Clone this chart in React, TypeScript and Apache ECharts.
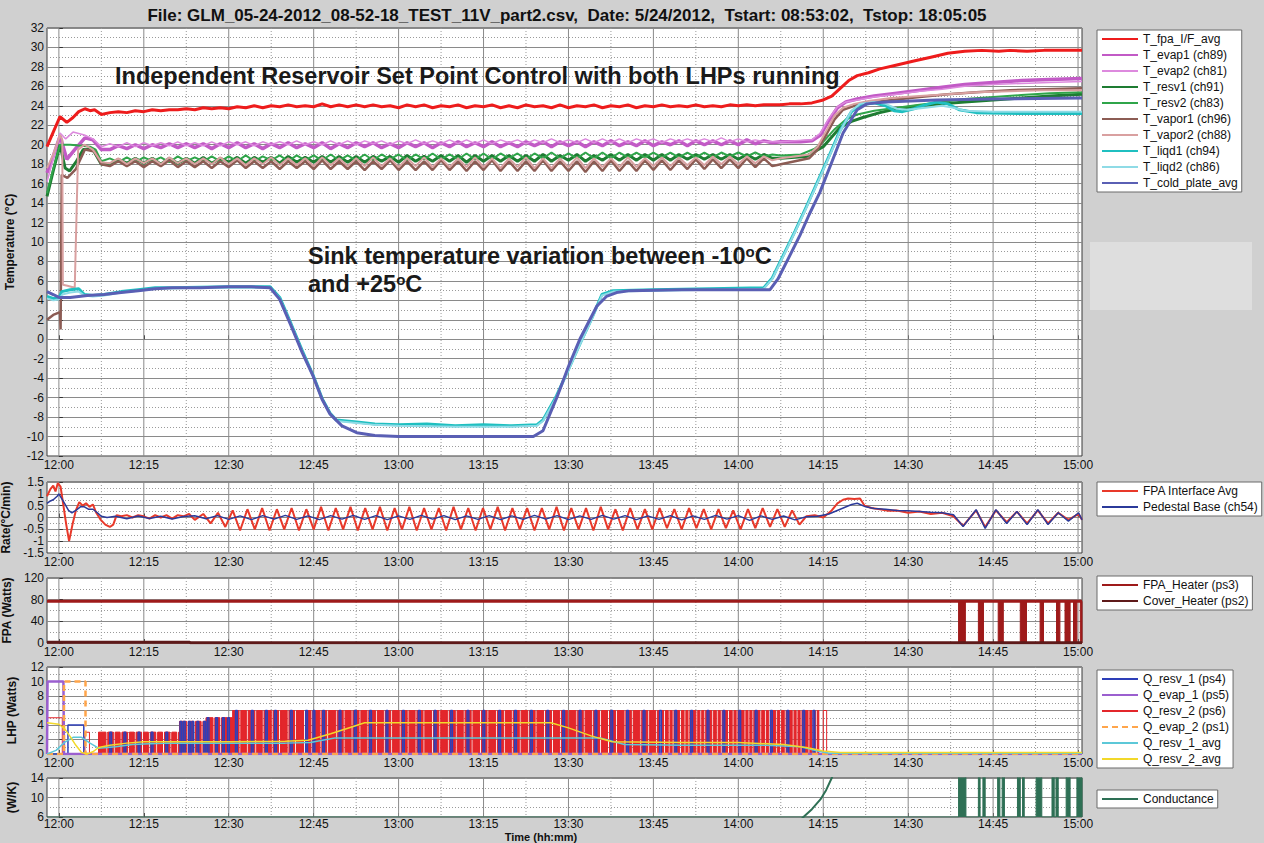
import React, { useEffect, useRef } from "react";
import * as echarts from "echarts";

const FONT = "'Liberation Sans', Arial, Helvetica, sans-serif";
const X_MIN = -2.1;
const X_MAX = 180.7;

// ---- time axis (minutes after 12:00) ----
const timeTicks = [0, 15, 30, 45, 60, 75, 90, 105, 120, 135, 150, 165, 180];
const timeTickLabels = ["12:00", "12:15", "12:30", "12:45", "13:00", "13:15", "13:30", "13:45", "14:00", "14:15", "14:30", "14:45", "15:00"];
const timeMinorTicks = [7.5, 22.5, 37.5, 52.5, 67.5, 82.5, 97.5, 112.5, 127.5, 142.5, 157.5, 172.5];

// ---- main temperature panel ----
const tOsc = [9, 10.5, 12, 13.5, 15, 16.5, 18, 19.5, 21, 22.5,
  24, 25.5, 27, 28.5, 30, 31.5, 33, 34.5, 36, 37.5,
  39, 40.5, 42, 43.5, 45, 46.5, 48, 49.5, 51, 52.5,
  54, 55.5, 57, 58.5, 60, 61.5, 63, 64.5, 66, 67.5,
  69, 70.5, 72, 73.5, 75, 76.5, 78, 79.5, 81, 82.5,
  84, 85.5, 87, 88.5, 90, 91.5, 93, 94.5, 96, 97.5,
  99, 100.5, 102, 103.5, 105, 106.5, 108, 109.5, 111, 112.5,
  114, 115.5, 117, 118.5, 120, 121.5, 123, 124.5, 126];

const fpaEarly = [[-2.1, 19.8], [-1, 21.3], [0.2, 22.9], [1.4, 22.3], [2.5, 22.8], [3.5, 23.4], [4.6, 23.7], [5.5, 23.5], [6.3, 23.6], [7.5, 23.1]];
const fpaOsc = [23.3, 23.4, 23.3, 23.5, 23.4, 23.6, 23.5, 23.6, 23.6, 23.7,
  23.6, 23.8, 23.7, 23.8, 23.7, 23.9, 23.8, 24.0, 23.8, 24.0,
  23.9, 24.1, 23.9, 24.0, 23.9, 24.2, 23.9, 24.1, 23.9, 24.1,
  23.9, 24.1, 23.9, 24.0, 23.8, 24.1, 23.9, 24.1, 23.8, 24.0,
  23.9, 24.1, 23.8, 24.0, 23.9, 24.1, 23.8, 24.0, 23.8, 24.1,
  23.9, 24.0, 23.8, 24.1, 23.8, 24.0, 23.9, 24.1, 23.8, 24.0,
  23.9, 24.1, 23.8, 24.0, 23.9, 24.1, 23.9, 24.0, 23.9, 24.1,
  23.9, 24.0, 23.9, 24.1, 24.0, 24.1, 24.0, 24.1, 24.1];
const fpaLate = [[127.5, 24.1], [129, 24.2], [131, 24.2], [133, 24.3], [135, 24.6], [136.5, 25.0], [138, 25.8], [139.5, 26.6], [141, 27.1], [143, 27.4], [145, 27.8], [148, 28.2], [151, 28.6], [154, 29.0], [157, 29.4], [160, 29.6], [163, 29.7], [166, 29.6], [168, 29.7], [171, 29.6], [174, 29.7], [177, 29.7], [180.7, 29.7]];

const evap1Early = [[-2.1, 17.1], [-1, 18.8], [0.2, 20.9], [1.4, 18.5], [2.8, 19.5], [4.6, 20.7], [6, 20.5], [7.5, 19.5]];
const evap1Osc = [19.5, 19.9, 19.6, 20.0, 19.6, 20.0, 19.7, 20.1, 19.7, 20.1,
  19.7, 20.1, 19.6, 20.1, 19.7, 20.2, 19.7, 20.1, 19.6, 20.1,
  19.7, 20.2, 19.7, 20.1, 19.7, 20.2, 19.6, 20.1, 19.7, 20.2,
  19.8, 20.2, 19.7, 20.1, 19.7, 20.2, 19.8, 20.2, 19.7, 20.2,
  19.8, 20.3, 19.8, 20.2, 19.8, 20.3, 19.8, 20.2, 19.8, 20.3,
  19.9, 20.3, 19.8, 20.3, 19.9, 20.3, 19.8, 20.3, 19.9, 20.4,
  19.9, 20.3, 19.9, 20.4, 19.9, 20.3, 20.0, 20.4, 19.9, 20.4,
  20.0, 20.4, 20.0, 20.4, 20.0, 20.5, 20.1, 20.4, 20.2];
const evap1Late = [[127.5, 20.3], [129, 20.3], [131, 20.3], [133, 20.4], [134.5, 21.0], [136, 22.5], [137.5, 23.8], [139, 24.4], [141, 24.7], [144, 25.0], [148, 25.3], [152, 25.6], [156, 25.9], [160, 26.2], [165, 26.4], [170, 26.6], [175, 26.7], [180.7, 26.8]];

const evap2Early = [[-2.1, 16.2], [-1, 18.5], [0.2, 21.2], [1.2, 20.6], [2.5, 21.3], [4.5, 21.0], [6, 20.6], [7.5, 19.8]];
const evap2Osc = [20.1, 19.8, 20.2, 19.8, 20.2, 19.9, 20.2, 19.9, 20.3, 19.9,
  20.2, 19.9, 20.3, 19.9, 20.3, 20.0, 20.3, 19.9, 20.3, 20.0,
  20.3, 20.0, 20.4, 20.0, 20.3, 20.0, 20.4, 20.0, 20.4, 20.0,
  20.4, 20.1, 20.4, 20.0, 20.4, 20.1, 20.5, 20.1, 20.4, 20.1,
  20.5, 20.1, 20.5, 20.1, 20.5, 20.1, 20.5, 20.2, 20.5, 20.1,
  20.5, 20.2, 20.6, 20.2, 20.5, 20.2, 20.6, 20.2, 20.6, 20.2,
  20.6, 20.2, 20.6, 20.3, 20.6, 20.2, 20.6, 20.3, 20.6, 20.3,
  20.6, 20.3, 20.7, 20.3, 20.6, 20.3, 20.5, 20.3, 20.3];
const evap2Late = [[127.5, 20.3], [130, 20.4], [133, 20.5], [134.5, 21.2], [136, 22.7], [137.5, 23.9], [139, 24.4], [141, 24.6], [144, 24.9], [148, 25.2], [152, 25.5], [156, 25.7], [160, 26.0], [165, 26.2], [170, 26.3], [175, 26.4], [180.7, 26.5]];

const resv1Early = [[-2.1, 14.7], [-1, 17.3], [0.2, 20], [1.1, 17.6], [1.9, 17.3], [3, 18.2], [4.3, 19.5], [6, 19.5], [7.5, 18.0]];
const resv1Osc = [18.0, 18.5, 18.1, 18.6, 18.1, 18.6, 18.0, 18.6, 18.1, 18.6,
  18.1, 18.7, 18.1, 18.6, 18.2, 18.7, 18.1, 18.7, 18.2, 18.7,
  18.1, 18.8, 18.2, 18.7, 18.2, 18.8, 18.2, 18.8, 18.2, 18.8,
  18.2, 18.8, 18.3, 18.8, 18.2, 18.9, 18.3, 18.8, 18.3, 18.9,
  18.3, 18.9, 18.2, 18.9, 18.3, 18.9, 18.3, 18.9, 18.3, 18.9,
  18.3, 19.0, 18.3, 18.9, 18.4, 19.0, 18.3, 18.9, 18.4, 19.0,
  18.4, 19.0, 18.4, 19.0, 18.4, 19.0, 18.4, 19.0, 18.5, 19.0,
  18.5, 19.0, 18.5, 19.0, 18.5, 19.0, 18.5, 19.0, 18.6];
const resv1Late = [[127.5, 18.6], [130, 18.7], [132, 18.8], [133.5, 19.3], [135, 19.8], [136.5, 20.8], [138, 21.8], [140, 22.4], [142, 22.8], [145, 23.3], [148, 23.7], [152, 24.0], [156, 24.2], [160, 24.4], [165, 24.6], [170, 24.8], [175, 25.0], [180.7, 25.2]];

const resv2Early = [[-2.1, 15], [-1, 17.5], [0.2, 20], [2, 20], [4, 19.9], [5.5, 19.8], [6.5, 19.5], [7.5, 18.3]];
const resv2Osc = [18.6, 18.2, 18.7, 18.2, 18.7, 18.3, 18.7, 18.2, 18.8, 18.3,
  18.7, 18.3, 18.8, 18.3, 18.8, 18.3, 18.9, 18.3, 18.8, 18.4,
  18.9, 18.3, 18.9, 18.4, 18.9, 18.4, 19.0, 18.4, 18.9, 18.4,
  19.0, 18.4, 19.0, 18.5, 19.0, 18.4, 19.0, 18.5, 19.1, 18.5,
  19.0, 18.5, 19.1, 18.5, 19.1, 18.5, 19.1, 18.6, 19.1, 18.5,
  19.1, 18.6, 19.2, 18.6, 19.1, 18.6, 19.2, 18.6, 19.2, 18.6,
  19.2, 18.7, 19.2, 18.7, 19.2, 18.7, 19.2, 18.7, 19.2, 18.7,
  19.2, 18.7, 19.2, 18.8, 19.2, 18.8, 19.2, 18.8, 19.0];
const resv2Late = [[127.5, 18.9], [131, 19.0], [133.5, 19.6], [135, 20.3], [137, 21.6], [139, 22.6], [141, 23.1], [144, 23.5], [148, 23.8], [152, 24.1], [156, 24.4], [160, 24.7], [165, 24.9], [170, 25.1], [175, 25.3], [180.7, 25.4]];

const vapor1Early = [[-2.1, 2.0], [-1, 2.5], [0.2, 2.8], [0.3, 1.0], [0.5, 16.9], [1.5, 16.6], [3, 17.5], [4.6, 19.5], [6.3, 19.3], [7.5, 18.0]];
const vapor1Osc = [17.8, 18.3, 17.8, 18.3, 17.7, 18.3, 17.8, 18.4, 17.7, 18.3,
  17.7, 18.3, 17.6, 18.3, 17.7, 18.4, 17.6, 18.3, 17.6, 18.3,
  17.5, 18.3, 17.6, 18.3, 17.5, 18.4, 17.5, 18.3, 17.5, 18.3,
  17.4, 18.3, 17.5, 18.4, 17.4, 18.3, 17.4, 18.3, 17.4, 18.4,
  17.4, 18.3, 17.3, 18.3, 17.4, 18.4, 17.3, 18.3, 17.3, 18.3,
  17.3, 18.4, 17.3, 18.3, 17.3, 18.3, 17.2, 18.3, 17.3, 18.4,
  17.3, 18.3, 17.3, 18.4, 17.4, 18.4, 17.4, 18.4, 17.5, 18.5,
  17.5, 18.5, 17.6, 18.5, 17.6, 18.6, 17.7, 18.6, 17.8];
const vapor1Late = [[127.5, 18.0], [130, 18.3], [132.5, 18.6], [134, 19.5], [135.5, 21.0], [137, 22.6], [138.5, 23.6], [140.5, 24.0], [143, 24.3], [147, 24.6], [152, 24.9], [157, 25.2], [162, 25.4], [168, 25.6], [174, 25.7], [180.7, 25.8]];

const vapor2Early = [[-2.1, 17.6], [-1, 19.0], [0.2, 21.0], [0.6, 20.5], [0.7, 5.6], [1.5, 5.5], [2.8, 5.3], [3.4, 19.5], [4.5, 20.0], [6, 19.5], [7.5, 18.2]];
const vapor2Osc = [18.1, 18.6, 18.0, 18.6, 18.1, 18.6, 18.0, 18.7, 18.1, 18.6,
  18.0, 18.6, 18.0, 18.7, 18.0, 18.6, 17.9, 18.6, 18.0, 18.7,
  17.9, 18.6, 17.9, 18.6, 17.8, 18.7, 17.9, 18.6, 17.8, 18.6,
  17.8, 18.7, 17.8, 18.6, 17.7, 18.6, 17.8, 18.7, 17.7, 18.6,
  17.7, 18.6, 17.7, 18.7, 17.7, 18.6, 17.6, 18.6, 17.7, 18.7,
  17.6, 18.6, 17.6, 18.6, 17.7, 18.7, 17.6, 18.6, 17.7, 18.6,
  17.7, 18.7, 17.7, 18.6, 17.8, 18.7, 17.8, 18.7, 17.9, 18.7,
  17.9, 18.8, 18.0, 18.8, 18.0, 18.8, 18.1, 18.8, 18.4];
const vapor2Late = [[127.5, 18.6], [130, 18.8], [132.5, 19.0], [134, 19.8], [135.5, 21.4], [137, 23.0], [138.5, 23.8], [140.5, 24.2], [143, 24.5], [147, 24.8], [152, 25.0], [157, 25.2], [162, 25.4], [168, 25.5], [174, 25.6], [180.7, 25.6]];

const liqd1Data = [[-2.1, 4.4], [-1, 4.2], [0, 4.2], [0.5, 4.9], [2, 5.1], [3.5, 5.2], [4.5, 4.6], [6, 4.5], [8, 4.6], [11, 4.9], [14, 5.1], [17, 5.3], [20, 5.3], [30, 5.4], [37.3, 5.4], [39, 4.3], [41, 1.6], [43, -1.2], [44.9, -3.7], [46.5, -6.1], [47.9, -7.6], [49, -8.3], [52.6, -8.5], [55.8, -8.7], [60, -8.8], [65, -8.7], [70, -8.9], [75, -8.8], [80, -8.9], [84.4, -8.8], [85.5, -8.3], [87.9, -5.8], [90, -3.1], [92, -0.5], [94, 2.0], [95.9, 4.6], [97.9, 5.0], [105, 5.1], [115, 5.2], [124.5, 5.3], [126, 6.3], [128, 8.7], [130, 11.1], [132, 13.6], [134, 16.2], [136, 18.8], [138, 21.5], [140, 23.4], [141.5, 24.1], [144, 24.3], [146, 24.0], [147.5, 23.5], [149, 23.4], [151, 23.7], [153, 24.1], [155, 24.4], [157, 24.2], [159, 23.6], [162, 23.3], [170, 23.2], [180.7, 23.2]];
const liqd2Data = [[-2.1, 4.2], [-1, 4.0], [0, 4.1], [0.6, 4.6], [2, 4.8], [3.5, 4.9], [4.5, 4.5], [6, 4.4], [8, 4.5], [11, 4.8], [14, 5.0], [17, 5.2], [20, 5.3], [30, 5.3], [37.3, 5.3], [39, 4.2], [41, 1.5], [43, -1.3], [44.9, -3.8], [46.5, -6.2], [47.9, -7.7], [49, -8.4], [52.6, -8.6], [55.8, -8.8], [60, -8.9], [70, -9.0], [80, -9.0], [84.4, -8.9], [85.5, -8.4], [87.9, -5.9], [90, -3.2], [92, -0.6], [94, 1.9], [95.9, 4.5], [97.9, 4.9], [105, 5.0], [115, 5.1], [124.5, 5.2], [126, 6.2], [128, 8.6], [130, 11.0], [132, 13.5], [134, 16.1], [136, 18.7], [138, 21.4], [140, 23.5], [141.5, 24.2], [144, 24.4], [146, 24.2], [148, 23.7], [150, 23.6], [153, 23.8], [156, 24.0], [158, 23.8], [160, 23.5], [165, 23.4], [172, 23.4], [180.7, 23.4]];
const coldPlateData = [[-2.1, 4.9], [-1, 4.6], [0, 4.3], [2, 4.3], [5, 4.5], [8, 4.6], [11, 4.8], [14, 5.0], [17, 5.2], [20, 5.3], [25, 5.3], [30, 5.4], [34, 5.4], [37.3, 5.3], [39, 4.1], [41, 1.4], [43, -1.4], [44.9, -3.8], [46.5, -6.2], [47.9, -7.7], [50, -8.9], [52.6, -9.6], [55.8, -9.9], [60, -10], [70, -10], [80, -10], [83.8, -10], [85.5, -9.4], [88, -5.9], [90, -2.8], [92, 0], [95, 3.4], [96.7, 4.4], [98.5, 4.8], [100.9, 5.0], [110, 5.1], [120, 5.1], [125.6, 5.1], [127, 6.2], [129, 8.5], [130.9, 10.7], [132.5, 12.8], [134.4, 15.1], [136.5, 18.2], [138.5, 21.2], [141, 23.6], [142.7, 24.2], [146, 24.4], [155, 24.6], [165, 24.7], [180.7, 24.8]];

// ---- rate panel ----
const fpaRateData = [[-2.1, 0.9], [-1.5, 1.2], [-1, 1.35], [-0.6, 1.1], [-0.2, 1.45], [0.3, 1.3], [0.8, 0.5], [1.3, -0.3], [1.8, -1.0], [2.4, -0.3], [3, 0.3], [3.6, 0.65], [4.2, 0.5], [4.8, 0.6], [5.4, 0.45], [6, 0.55], [6.6, 0.2], [7.4, -0.1], [8.2, -0.3], [9, -0.4], [9.6, -0.3], [10.2, 0.1], [11, 0.05], [12, 0.1], [13, 0.0], [14, 0.1], [15, 0.05], [16, -0.05], [17, 0.1], [18, 0.0], [19, 0.1], [20, -0.05], [21, 0.1], [22, 0.05], [23, 0.15], [24, -0.1],
  [25.5, 0.15], [26.8, -0.25], [28.1, 0.2], [29.4, -0.4], [30.7, 0.3], [32, -0.55], [33.3, 0.35], [34.6, -0.5], [35.9, 0.4], [37.2, -0.55], [38.5, 0.35], [39.8, -0.5], [41.1, 0.4], [42.4, -0.55], [43.7, 0.35], [45, -0.5], [46.3, 0.45], [47.6, -0.55], [48.9, 0.4], [50.2, -0.5], [51.5, 0.45], [52.8, -0.55], [54.1, 0.4], [55.4, -0.5], [56.7, 0.45], [58, -0.55], [59.3, 0.4], [60.6, -0.5], [61.9, 0.45], [63.2, -0.55], [64.5, 0.4], [65.8, -0.5], [67.1, 0.4], [68.4, -0.55], [69.7, 0.45], [71, -0.5], [72.3, 0.4], [73.6, -0.55], [74.9, 0.4], [76.2, -0.5], [77.5, 0.45], [78.8, -0.55], [80.1, 0.4], [81.4, -0.5], [82.7, 0.4], [84, -0.55], [85.3, 0.4], [86.6, -0.5], [87.9, 0.45], [89.2, -0.55], [90.5, 0.4], [91.8, -0.5], [93.1, 0.4], [94.4, -0.55], [95.7, 0.45], [97, -0.5], [98.3, 0.35], [99.6, -0.55], [100.9, 0.4], [102.2, -0.5], [103.5, 0.35], [104.8, -0.5], [106.1, 0.4], [107.4, -0.45], [108.7, 0.35], [110, -0.5], [111.3, 0.4], [112.6, -0.45], [113.9, 0.35], [115.2, -0.5], [116.5, 0.35], [117.8, -0.45], [119.1, 0.3], [120.4, -0.5], [121.7, 0.35], [123, -0.45], [124.3, 0.4], [125.6, -0.4], [126.9, 0.35], [128.2, -0.4], [129.5, 0.3], [130.8, -0.3],
  [132, 0.05], [133.5, 0.1], [135, 0.0], [136.5, 0.3], [137.5, 0.6], [138.5, 0.75], [139.4, 0.8], [140.5, 0.78], [141.5, 0.8], [142.3, 0.5], [143.5, 0.4], [145, 0.35], [146.5, 0.28], [148, 0.3], [150, 0.2], [152, 0.25], [154, 0.15], [156, 0.2], [158, 0.05], [159.7, -0.35], [162, 0.3], [163.6, -0.4], [165.5, 0.3], [167.4, -0.2], [169.2, 0.25], [171, -0.25], [172.9, 0.3], [174.7, -0.25], [176.5, 0.2], [178.3, -0.1], [180.1, 0.15], [180.7, -0.1]];
const pedestalRateData = [[-2.1, 0.6], [-1.5, 0.7], [-1, 0.75], [-0.3, 0.9], [0, 1.0], [0.5, 0.8], [1, 0.6], [1.7, 0.3], [2.3, 0.2], [3, 0.3], [3.8, 0.45], [4.5, 0.45], [5.2, 0.35], [6, 0.35], [6.8, 0.2], [7.5, 0.05], [8.5, 0.0], [10, 0.05],
  [12, -0.05], [14, 0.06], [16, -0.04], [18, 0.05], [20, -0.06], [22, 0.04], [24, 0.07], [26, -0.05], [28, 0.08], [30, -0.08], [32, 0.07], [34, -0.09], [36, 0.08], [38, -0.07], [40, 0.09], [42, -0.08], [44, 0.07], [46, -0.09], [48, 0.08], [50, -0.07], [52, 0.09], [54, -0.08], [56, 0.08], [58, -0.09], [60, 0.07], [62, -0.08], [64, 0.09], [66, -0.07], [68, 0.08], [70, -0.09], [72, 0.07], [74, -0.08], [76, 0.08], [78, -0.09], [80, 0.07], [82, -0.08], [84, 0.09], [86, -0.07], [88, 0.08], [90, -0.09], [92, 0.07], [94, -0.08], [96, 0.09], [98, -0.07], [100, 0.08], [102, -0.09], [104, 0.07], [106, -0.08], [108, 0.08], [110, -0.1], [112, 0.07], [114, -0.08], [116, 0.09], [118, -0.07], [120, 0.08], [122, -0.12], [124, 0.07], [126, -0.08], [128, 0.06], [130, -0.1], [132, 0.03],
  [134, 0.05], [136, 0.15], [138, 0.35], [140, 0.55], [141, 0.6], [142.5, 0.45], [144, 0.38], [146, 0.35], [148, 0.3], [150, 0.28], [152, 0.25], [154, 0.22], [156, 0.2], [158, 0.12], [159.7, -0.38], [162, 0.33], [163.6, -0.46], [165.5, 0.33], [167.4, -0.25], [169.2, 0.25], [171, -0.3], [172.9, 0.33], [174.7, -0.3], [176.5, 0.2], [178.3, -0.15], [180.1, 0.2], [180.7, -0.1]];

// ---- FPA heater panel ----
const fpaHeaterData = [[-2.1, 77], [180.7, 77]];
const coverHeaterData = [[-2.1, 1.5], [23, 1.5], [23.2, 0.6], [180.7, 0.6]];
const fpaHeaterCycles = [[158.9, 160.1], [162.4, 163.3], [165.9, 166.8], [169.8, 170.9], [173.3, 173.9], [176.2, 176.8], [177.7, 178.6], [179.2, 179.8], [180.4, 180.7]];
const FPA_ON = 77;

// ---- LHP panel ----
const resv2EarlyQ = [[-2.1, 0], [-2.1, 5], [0.6, 5], [0.6, 0], [4.6, 0], [4.6, 3], [5.4, 3], [5.4, 0], [7.0, 0]];
const resv2Levels = [[7.0, 21.3, 3], [21.3, 26.0, 4.5], [26.0, 30.7, 5], [30.7, 134.2, 6]];
const resv2Gaps = [8.3, 9.6, 10.8, 12.1, 13.3, 14.6, 15.8, 17.1, 18.3, 19.6, 20.8,
  22.5, 23.8, 25.1, 27.2, 28.4, 29.7,
  31.8, 33.1, 34.6, 35.9, 37.5, 38.8, 40.3, 41.6, 43.2, 44.5, 46.1, 47.3, 48.9, 50.2, 51.6, 53.0, 54.4, 55.9, 57.3, 58.6, 60.1, 61.5, 62.9, 64.3, 65.8, 67.1, 68.6, 70.0, 71.4, 72.8, 74.3, 75.6, 77.1, 78.5, 79.9, 81.3, 82.8, 84.1, 85.6, 87.0, 88.4, 89.8, 91.3, 92.6, 94.1, 95.5, 96.9, 98.3, 99.8, 101.1, 102.6, 104.0, 105.4, 106.1, 106.8, 107.6, 108.3, 109.6, 110.4, 111.1, 112.5, 113.2, 113.9, 115.3, 116.1, 116.8, 118.1, 118.9, 119.6, 121.0, 121.7, 122.4, 123.8, 124.6, 125.3, 126.6, 127.3, 128.1, 129.5, 130.2, 130.9, 132.3, 133.0, 133.6];
const resv2LateQ = [[134.2, 0], [135.0, 0], [135.0, 6], [135.6, 6], [135.6, 0], [180.7, 0]];
const resv1EarlyQ = [[-2.1, 0], [1.6, 0], [1.6, 4], [4.4, 4], [4.4, 0]];
const resv1Pulses = [9.0, 11.5, 14.0, 16.3, 18.9, 21.4, 22.0, 22.9, 23.5, 24.4, 25.6, 26.2, 27.7, 28.9, 29.8, 31.2, 34.0, 36.5, 38.1, 40.9, 43.6, 44.9, 46.6, 49.5, 52.2, 54.9, 57.8, 60.7, 63.5, 66.3, 69.2, 72.1, 74.9, 77.7, 80.5, 83.3, 86.2, 89.0, 91.9, 94.7, 97.5, 100.3, 103.2, 106.1, 108.8, 111.6, 114.5, 117.3, 120.1, 123.0, 125.7, 128.6, 131.4, 133.2];
const evap1Q = [[-2.1, 0], [-2.0, 10], [0.8, 10], [0.9, 0], [180.7, 0]];
const evap2Q = [[-2.1, 0], [0.9, 0], [0.9, 10], [4.7, 10], [4.7, 0], [180.7, 0]];
const resv1AvgQ = [[-2.1, 0], [-0.5, 0.5], [1, 1.6], [2.5, 2.3], [4, 2.3], [5.5, 1.5], [7, 0.8], [10, 1.0], [13, 1.3], [16, 1.4], [20, 1.5], [30, 1.5], [40, 1.5], [44.4, 1.6], [48.7, 2.2], [60, 2.2], [75, 2.2], [90, 2.2], [95.6, 2.2], [99.9, 1.3], [110, 1.2], [125, 1.2], [131, 1.0], [134, 0.4], [136, 0.1], [180.7, 0.1]];
const resv2AvgQ = [[-2.1, 4.3], [0, 4.1], [1, 3.5], [2, 2.4], [3, 1.2], [4, 0.2], [5, 0], [6, 0.3], [7, 0.9], [9, 1.2], [12, 1.5], [15, 1.7], [20, 1.7], [30, 1.7], [40, 1.75], [44, 1.9], [48, 2.8], [52, 3.8], [54, 4.3], [70, 4.3], [86.9, 4.3], [90, 3.6], [94, 2.5], [97.7, 1.7], [110, 1.6], [120, 1.6], [128, 1.3], [132, 0.9], [135, 0.4], [138, 0.2], [180.7, 0.2]];

// ---- conductance panel ----
const conductanceData = [[129, 3], [131.5, 6], [133, 7.6], [134.5, 9.6], [135.5, 11.5], [136.5, 14], [137.5, 17]];
const conductanceCycles = [[158.9, 160.2], [162.4, 162.7], [163.2, 163.6], [165.8, 166.2], [166.6, 167.0], [169.3, 169.8], [170.2, 170.5], [172.6, 173.6], [175.4, 175.8], [176.1, 176.5], [177.9, 178.6], [179.8, 180.7]];

const legendMain = ["T_fpa_I/F_avg", "T_evap1 (ch89)", "T_evap2 (ch81)", "T_resv1 (ch91)", "T_resv2 (ch83)", "T_vapor1 (ch96)", "T_vapor2 (ch88)", "T_liqd1 (ch94)", "T_liqd2 (ch86)", "T_cold_plate_avg"];
const legendRate = ["FPA Interface Avg", "Pedestal Base (ch54)"];
const legendFpa = ["FPA_Heater (ps3)", "Cover_Heater (ps2)"];
const legendLhp = ["Q_resv_1 (ps4)", "Q_evap_1 (ps5)", "Q_resv_2 (ps6)", "Q_evap_2 (ps1)", "Q_resv_1_avg", "Q_resv_2_avg"];
const legendCond = ["Conductance"];

// ---- helpers ----
function withTimes(times: number[], vals: number[]) {
  return times.map((t, i) => [t, vals[i]]);
}
function joinSeries(early: number[][], times: number[], vals: number[], late: number[][]) {
  return early.concat(withTimes(times, vals), late);
}
function intervalBars(intervals: number[][], base: number, top: number) {
  const out: number[][] = [[X_MIN, base]];
  intervals.forEach(([a, b]) => {
    out.push([a, base], [a, top], [b, top], [b, base]);
  });
  out.push([X_MAX, base]);
  return out;
}
function levelAt(t: number) {
  for (const [a, b, l] of resv2Levels) if (t >= a && t < b) return l;
  return 0;
}
const GAP_W = 0.35;
const PULSE_W = 0.3;
function buildResv2Block() {
  const out: number[][] = [];
  resv2Levels.forEach(([a, b, l]) => {
    out.push([a, l]);
    resv2Gaps.filter((g) => g > a && g < b).forEach((g) => {
      out.push([g, l], [g, 0], [g + GAP_W, 0], [g + GAP_W, l]);
    });
    out.push([b, l]);
  });
  return out;
}
function buildResv2() {
  return resv2EarlyQ.concat(buildResv2Block(), resv2LateQ);
}
function buildResv2Fill() {
  return [[7.0, 0]].concat(buildResv2Block(), [[134.2, 0]]);
}
function buildResv1() {
  const out = resv1EarlyQ.slice();
  resv1Pulses.forEach((t) => {
    const l = levelAt(t);
    out.push([t, 0], [t, l], [t + PULSE_W, l], [t + PULSE_W, 0]);
  });
  out.push([X_MAX, 0]);
  return out;
}

function line(name: string, data: any, color: string, width: number, gi: number, extra: any = {}) {
  const { lineStyle: extraLine, ...rest } = extra;
  return {
    type: "line", name, data, xAxisIndex: gi, yAxisIndex: gi,
    showSymbol: false, symbol: "none", silent: true, animation: false,
    lineStyle: { color, width, ...(extraLine || {}) },
    itemStyle: { color },
    emphasis: { disabled: true },
    z: 3,
    ...rest,
  };
}

const vGridData = timeTicks.map((t) => [t, 1]).concat(timeMinorTicks.map((t) => [t, 0]));
function vGrid(gi: number) {
  return {
    type: "custom", name: "vgrid" + gi, xAxisIndex: gi, yAxisIndex: gi, z: 1, silent: true,
    animation: false, clip: false, data: vGridData,
    renderItem: (params: any, api: any) => {
      const cs = params.coordSys;
      const x = api.coord([api.value(0), 0])[0];
      const major = api.value(1) === 1;
      return {
        type: "line",
        shape: { x1: x, y1: cs.y, x2: x, y2: cs.y + cs.height },
        style: { stroke: major ? "#8a8a8a" : "#9a9a9a", lineWidth: 1, lineDash: major ? null : [1, 2] },
        silent: true,
      };
    },
  };
}

const gridBoxes = [
  { top: 28, height: 428 },
  { top: 482, height: 71 },
  { top: 578, height: 65 },
  { top: 667, height: 87 },
  { top: 778, height: 39 },
];
const yCfg = [
  { min: -12, max: 32, interval: 2, name: "Temperature (°C)" },
  { min: -1.5, max: 1.5, interval: 0.5, name: "Rate(°C/min)" },
  { min: 0, max: 120, interval: 40, name: "FPA (Watts)" },
  { min: 0, max: 12, interval: 2, name: "LHP (Watts)" },
  { min: 6, max: 14, interval: 4, name: "(W/K)" },
];
const legendBoxes = [
  { top: 30, data: legendMain },
  { top: 482, data: legendRate },
  { top: 576, data: legendFpa },
  { top: 670, data: legendLhp },
  { top: 790, data: legendCond },
];

function buildOption() {
  const grid = gridBoxes.map((g) => ({
    left: 47, width: 1035, top: g.top, height: g.height, show: true,
    backgroundColor: "#ffffff", borderColor: "#3a3a3a", borderWidth: 1,
    containLabel: false, outerBoundsMode: "none",
  }));
  const xAxis = gridBoxes.map((_, i) => ({
    type: "value", gridIndex: i, min: X_MIN, max: X_MAX,
    axisLine: { show: false }, splitLine: { show: false },
    axisTick: { show: true, inside: true, length: 4, customValues: timeTicks, lineStyle: { color: "#333" } },
    axisLabel: {
      customValues: timeTicks, margin: i === 4 ? 1 : 3, fontSize: 12, color: "#111", fontFamily: FONT,
      formatter: (v: number) => timeTickLabels[timeTicks.indexOf(Math.round(v))] || "",
    },
  }));
  const yAxis = yCfg.map((c, i) => ({
    type: "value", gridIndex: i, min: c.min, max: c.max, interval: c.interval,
    name: c.name, nameLocation: "middle", nameGap: 29,
    nameTextStyle: { fontSize: 12, fontWeight: "bold", color: "#111", fontFamily: FONT },
    axisLine: { show: false },
    axisTick: { show: true, inside: true, length: 4, lineStyle: { color: "#333" } },
    axisLabel: { margin: 3, fontSize: 12, color: "#111", fontFamily: FONT },
    splitLine: { show: true, lineStyle: { color: "#8a8a8a", width: 1 } },
    minorTick: { show: false, splitNumber: 2 },
    minorSplitLine: { show: true, lineStyle: { color: "#9a9a9a", width: 1, type: [1, 2] } },
  }));
  const legend = legendBoxes.map((l) => ({
    show: true, orient: "vertical", left: 1097, top: l.top, data: l.data,
    itemWidth: 36, itemHeight: 10, itemGap: 4, selectedMode: false,
    itemStyle: { opacity: 0, borderWidth: 0 },
    backgroundColor: "#ffffff", borderColor: "#6a6a6a", borderWidth: 1, borderRadius: 0,
    padding: [3, 4, 3, 4],
    textStyle: { fontSize: 12, color: "#111", fontFamily: FONT },
  }));

  const series: any[] = [
    vGrid(0), vGrid(1), vGrid(2), vGrid(3), vGrid(4),
    // main
    line("T_fpa_I/F_avg", joinSeries(fpaEarly, tOsc, fpaOsc, fpaLate), "#ee1c1c", 3, 0),
    line("T_evap1 (ch89)", joinSeries(evap1Early, tOsc, evap1Osc, evap1Late), "#c25ac6", 3.5, 0),
    line("T_evap2 (ch81)", joinSeries(evap2Early, tOsc, evap2Osc, evap2Late), "#dd8ade", 1.5, 0),
    line("T_resv1 (ch91)", joinSeries(resv1Early, tOsc, resv1Osc, resv1Late), "#1e7c32", 3, 0),
    line("T_resv2 (ch83)", joinSeries(resv2Early, tOsc, resv2Osc, resv2Late), "#2fa54a", 2, 0),
    line("T_vapor1 (ch96)", joinSeries(vapor1Early, tOsc, vapor1Osc, vapor1Late), "#8c5c54", 2.5, 0),
    line("T_vapor2 (ch88)", joinSeries(vapor2Early, tOsc, vapor2Osc, vapor2Late), "#d9a0a0", 2, 0),
    line("T_liqd1 (ch94)", liqd1Data, "#1fbfc0", 3, 0),
    line("T_liqd2 (ch86)", liqd2Data, "#8fdbe6", 2, 0),
    line("T_cold_plate_avg", coldPlateData, "#5a5fb4", 3, 0),
    // rate
    line("FPA Interface Avg", fpaRateData, "#e8392a", 2, 1),
    line("Pedestal Base (ch54)", pedestalRateData, "#2b3a9a", 1.5, 1),
    // FPA
    line("FPA_Heater cycles", intervalBars(fpaHeaterCycles, 0, FPA_ON), "#9e1a1a", 1, 2, { areaStyle: { color: "#9e1a1a", opacity: 1 } }),
    line("FPA_Heater (ps3)", fpaHeaterData, "#9e1a1a", 3, 2),
    line("Cover_Heater (ps2)", coverHeaterData, "#5e1a1a", 3, 2),
    // LHP
    line("Q_resv_2 fill", buildResv2Fill(), "#e3262b", 0.6, 3, { areaStyle: { color: "#e3262b", opacity: 1 } }),
    line("Q_resv_2 (ps6)", buildResv2(), "#e3262b", 1, 3),
    line("Q_resv_1 (ps4)", buildResv1(), "#2e3fb8", 1.5, 3),
    line("Q_evap_1 (ps5)", evap1Q, "#9b5fcf", 2.5, 3),
    line("Q_evap_2 (ps1)", evap2Q, "#ffa54a", 2.5, 3, { lineStyle: { type: [6, 4] } }),
    line("Q_resv_1_avg", resv1AvgQ, "#5cc8d8", 1.5, 3),
    line("Q_resv_2_avg", resv2AvgQ, "#f2d82a", 1.5, 3),
    // conductance
    line("Conductance cycles", intervalBars(conductanceCycles, 6, 20), "#2e7055", 1, 4, { areaStyle: { color: "#2e7055", opacity: 1, origin: "start" } }),
    line("Conductance", conductanceData, "#2e7055", 2, 4),
  ];

  const sup = { fontSize: 15, fontWeight: "bold", fontFamily: FONT, fill: "#1a1a1a", verticalAlign: "top" };
  const big = { fontSize: 23.5, fontWeight: "bold", fontFamily: FONT, fill: "#1a1a1a" };

  const graphic = [
    { type: "rect", shape: { x: 1090, y: 242, width: 162, height: 68 }, style: { fill: "#dedede" }, silent: true, z: 0 },
    {
      type: "text", x: 567, y: 15, silent: true,
      style: { text: "File: GLM_05-24-2012_08-52-18_TEST_11V_part2.csv,  Date: 5/24/2012,  Tstart: 08:53:02,  Tstop: 18:05:05", fontSize: 17, fontWeight: "bold", fontFamily: FONT, fill: "#111", align: "center", verticalAlign: "middle" },
    },
    {
      type: "text", x: 115, y: 76, silent: true, z: 100,
      style: { text: "Independent Reservoir Set Point Control with both LHPs running", fontSize: 23.5, fontWeight: "bold", fontFamily: FONT, fill: "#1a1a1a", align: "left", verticalAlign: "middle" },
    },
    {
      type: "text", x: 308, y: 256, silent: true, z: 100,
      style: { text: "{a|Sink temperature variation between -10}{s|o}{a|C}", rich: { a: big, s: sup }, align: "left", verticalAlign: "middle" },
    },
    {
      type: "text", x: 308, y: 284, silent: true, z: 100,
      style: { text: "{a|and +25}{s|o}{a|C}", rich: { a: big, s: sup }, align: "left", verticalAlign: "middle" },
    },
    {
      type: "text", x: 541, y: 837, silent: true,
      style: { text: "Time (hh:mm)", fontSize: 11, fontWeight: "bold", fontFamily: FONT, fill: "#111", align: "center", verticalAlign: "middle" },
    },
  ];

  return {
    animation: false,
    backgroundColor: "#d0d0d0",
    textStyle: { fontFamily: FONT },
    grid, xAxis, yAxis, legend, series, graphic,
  };
}

export default function App() {
  const ref = useRef<HTMLDivElement>(null);
  useEffect(() => {
    if (!ref.current) return;
    const chart = echarts.init(ref.current, null, { renderer: "svg" });
    chart.setOption(buildOption() as any);
    return () => chart.dispose();
  }, []);
  return <div ref={ref} style={{ position: "absolute", left: 0, top: 0, width: 1264, height: 843 }} />;
}
